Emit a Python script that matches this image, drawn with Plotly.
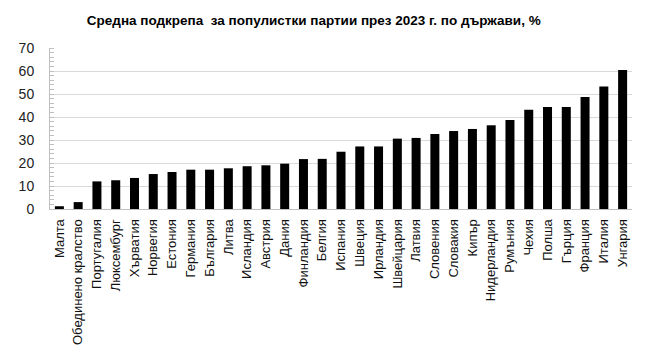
import plotly.graph_objects as go

countries = ["Малта", "Обединено кралство", "Португалия", "Люксембург", "Хърватия",
             "Норвегия", "Естония", "Германия", "България", "Литва", "Исландия",
             "Австрия", "Дания", "Финландия", "Белгия", "Испания", "Швеция",
             "Ирландия", "Швейцария", "Латвия", "Словения", "Словакия", "Кипър",
             "Нидерландия", "Румъния", "Чехия", "Полша", "Гърция", "Франция",
             "Италия", "Унгария"]
values = [1.2, 3.0, 12.0, 12.5, 13.5, 15.2, 16.1, 17.1, 17.1, 17.7, 18.6,
          19.0, 19.7, 21.7, 21.8, 24.9, 27.2, 27.2, 30.6, 30.9, 32.6, 33.9,
          34.8, 36.4, 38.7, 43.2, 44.3, 44.3, 48.7, 53.3, 60.4]
title = "<b>Средна подкрепа  за популистки партии през 2023 г. по държави, %</b>"
yticks = [0, 10, 20, 30, 40, 50, 60, 70]

fig = go.Figure(go.Bar(x=countries, y=values, marker_color="black",
                       marker_line_width=0, width=0.48))

fig.update_layout(
    width=637, height=347,
    margin=dict(l=42, r=13, t=40, b=146, autoexpand=False),
    paper_bgcolor="white", plot_bgcolor="white",
    showlegend=False,
    title=dict(text=title, x=0.48, xanchor="center", y=0.965, yanchor="middle",
               font=dict(family="Liberation Sans, Arial", size=13.5, color="black")),
    font=dict(family="Liberation Sans, Arial", color="#222"),
)
fig.update_xaxes(tickangle=-90, tickfont=dict(size=13, color="#111"),
                 showline=True, linecolor="#bfbfbf", linewidth=1, automargin=False,
                 ticks="", showgrid=False, range=[-0.5, len(countries) - 0.5],
                 ticklabelstandoff=4)
fig.update_yaxes(range=[0, 70], tickvals=yticks, tickfont=dict(size=14, color="#222"),
                 showgrid=True, gridcolor="#d9d9d9", gridwidth=1, automargin=False,
                 showline=True, linecolor="#bfbfbf", linewidth=1,
                 ticks="", zeroline=False, ticklabelstandoff=12,
                 minor=dict(ticks="inside", dtick=2, ticklen=4, tickcolor="#bfbfbf", showgrid=False))

fig.write_html("out.html")
